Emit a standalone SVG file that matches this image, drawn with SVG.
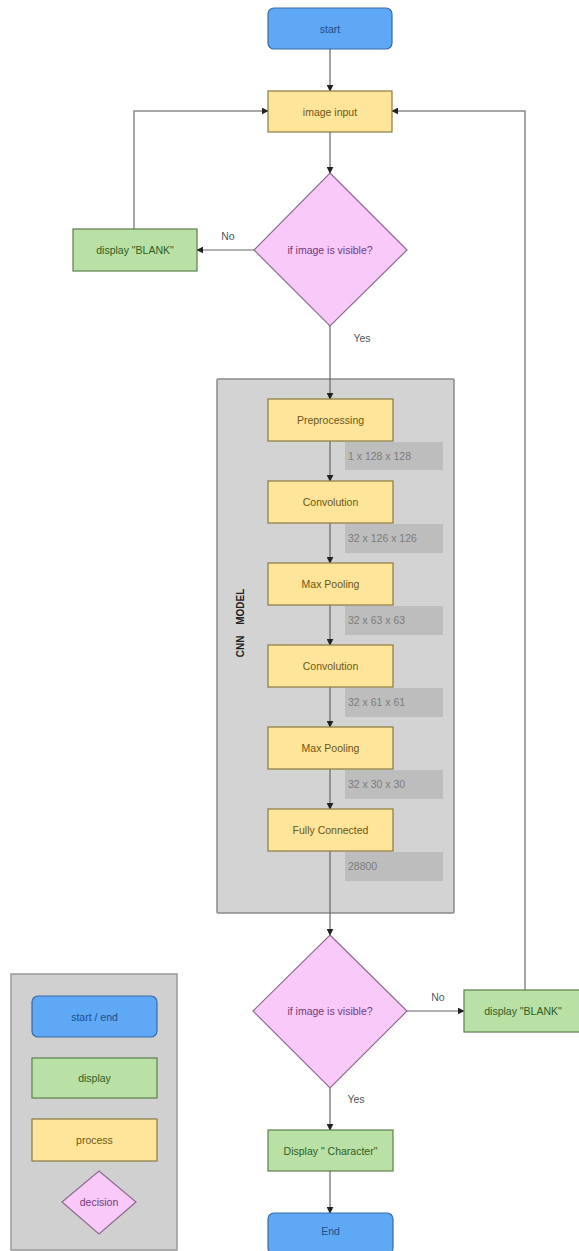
<svg xmlns="http://www.w3.org/2000/svg" width="579" height="1251" viewBox="0 0 579 1251">
<style>
text{font-family:"Liberation Sans",Arial,sans-serif;font-size:10.5px;text-anchor:middle;dominant-baseline:central}
.term{fill:#5ea8f5;stroke:#3a6aa8;stroke-width:1.2}
.term-t{fill:#1f4e8c}
.proc{fill:#ffe599;stroke:#8a7a40;stroke-width:1.2}
.proc-t{fill:#6b5716}
.disp{fill:#b9e0a5;stroke:#5c7f4c;stroke-width:1.2}
.disp-t{fill:#2e5e22}
.dec{fill:#f9c9f9;stroke:#8c6b8e;stroke-width:1.2}
.dec-t{fill:#6e3a7a}
.dim{fill:#bdbdbd}
.dim-t{fill:#7c7c7c;text-anchor:start}
.lbl{fill:#555}
.conn{fill:none;stroke:#666;stroke-width:1.2}
.loop{fill:none;stroke:#8a8a8a;stroke-width:1.5}
</style>
<defs>
<marker id="arr" viewBox="0 0 10 10" refX="9" refY="5" markerWidth="7" markerHeight="7" orient="auto" markerUnits="userSpaceOnUse">
<path d="M0,0 L10,5 L0,10 z" fill="#222"/>
</marker>
</defs>
<rect width="579" height="1251" fill="#ffffff"/>

<g id="cnn-model">
<rect x="217" y="379" width="237" height="534" fill="#d3d3d3" stroke="#8a8a8a" stroke-width="1.5" rx="1"/>
<text x="240" y="623" transform="rotate(-90 240 623)" style="font-weight:bold;font-size:10px;word-spacing:8px" fill="#222">CNN MODEL</text>
</g>

<g id="legend">
<rect x="11" y="974" width="166" height="276" fill="#d0d0d0" stroke="#999" stroke-width="1.5"/>
<rect class="term" x="32" y="996" width="125" height="41" rx="6"/>
<text class="term-t" x="94.5" y="1016.5">start / end</text>
<rect class="disp" x="32" y="1058" width="125" height="40"/>
<text class="disp-t" x="94.5" y="1078">display</text>
<rect class="proc" x="32" y="1119" width="125" height="42"/>
<text class="proc-t" x="94.5" y="1140">process</text>
<polygon class="dec" points="99,1171 136,1202 99,1234 62,1202"/>
<text class="dec-t" x="99" y="1202">decision</text>
</g>

<g id="connectors">
<line class="conn" x1="330" y1="49" x2="330" y2="91" marker-end="url(#arr)"/>
<line class="conn" x1="330" y1="132" x2="330" y2="173" marker-end="url(#arr)"/>
<line class="conn" x1="254" y1="250" x2="197" y2="250" marker-end="url(#arr)"/>
<path class="loop" d="M134,229 V111 H268" marker-end="url(#arr)"/>
<line class="conn" x1="330" y1="326" x2="330" y2="399" marker-end="url(#arr)"/>
<line class="conn" x1="330" y1="441" x2="330" y2="481" marker-end="url(#arr)"/>
<line class="conn" x1="330" y1="523" x2="330" y2="563" marker-end="url(#arr)"/>
<line class="conn" x1="330" y1="605" x2="330" y2="645" marker-end="url(#arr)"/>
<line class="conn" x1="330" y1="687" x2="330" y2="727" marker-end="url(#arr)"/>
<line class="conn" x1="330" y1="769" x2="330" y2="809" marker-end="url(#arr)"/>
<line class="conn" x1="330" y1="851" x2="330" y2="935" marker-end="url(#arr)"/>
<line class="conn" x1="407" y1="1011" x2="464" y2="1011" marker-end="url(#arr)"/>
<path class="loop" d="M525,990 V111 H392" marker-end="url(#arr)"/>
<line class="conn" x1="330" y1="1088" x2="330" y2="1130" marker-end="url(#arr)"/>
<line class="conn" x1="330" y1="1171" x2="330" y2="1213" marker-end="url(#arr)"/>
<text class="lbl" x="228" y="236">No</text>
<text class="lbl" x="362" y="338">Yes</text>
<text class="lbl" x="438" y="997">No</text>
<text class="lbl" x="356" y="1099">Yes</text>
</g>

<g id="start">
<rect class="term" x="268" y="8" width="124" height="41" rx="6"/>
<text class="term-t" x="330" y="28.5">start</text>
</g>
<g id="image-input">
<rect class="proc" x="268" y="91" width="124" height="41"/>
<text class="proc-t" x="330" y="111.5">image input</text>
</g>
<g id="decision-1">
<polygon class="dec" points="330,173 407,250 330,326 254,250"/>
<text class="dec-t" x="330" y="250">if image is visible?</text>
</g>
<g id="display-blank-1">
<rect class="disp" x="73" y="229" width="124" height="42"/>
<text class="disp-t" x="135" y="250">display "BLANK"</text>
</g>

<g id="preprocessing">
<rect class="proc" x="268" y="399" width="125" height="42"/>
<text class="proc-t" x="330.5" y="420">Preprocessing</text>
<rect class="dim" x="345" y="442" width="98" height="28"/>
<text class="dim-t" x="348" y="456">1 x 128 x 128</text>
</g>
<g id="convolution-1">
<rect class="proc" x="268" y="481" width="125" height="42"/>
<text class="proc-t" x="330.5" y="502">Convolution</text>
<rect class="dim" x="345" y="524" width="98" height="29"/>
<text class="dim-t" x="348" y="538">32 x 126 x 126</text>
</g>
<g id="maxpool-1">
<rect class="proc" x="268" y="563" width="125" height="42"/>
<text class="proc-t" x="330.5" y="584">Max Pooling</text>
<rect class="dim" x="345" y="606" width="98" height="29"/>
<text class="dim-t" x="348" y="620">32 x 63 x 63</text>
</g>
<g id="convolution-2">
<rect class="proc" x="268" y="645" width="125" height="42"/>
<text class="proc-t" x="330.5" y="666">Convolution</text>
<rect class="dim" x="345" y="688" width="98" height="29"/>
<text class="dim-t" x="348" y="702">32 x 61 x 61</text>
</g>
<g id="maxpool-2">
<rect class="proc" x="268" y="727" width="125" height="42"/>
<text class="proc-t" x="330.5" y="748">Max Pooling</text>
<rect class="dim" x="345" y="770" width="98" height="29"/>
<text class="dim-t" x="348" y="784">32 x 30 x 30</text>
</g>
<g id="fully-connected">
<rect class="proc" x="268" y="809" width="125" height="42"/>
<text class="proc-t" x="330.5" y="830">Fully Connected</text>
<rect class="dim" x="345" y="852" width="98" height="29"/>
<text class="dim-t" x="348" y="866">28800</text>
</g>

<g id="decision-2">
<polygon class="dec" points="330,935 407,1011 330,1088 253,1011"/>
<text class="dec-t" x="330" y="1011">if image is visible?</text>
</g>
<g id="display-blank-2">
<rect class="disp" x="464" y="990" width="124" height="42"/>
<text class="disp-t" x="523" y="1011">display "BLANK"</text>
</g>
<g id="display-character">
<rect class="disp" x="268" y="1130" width="125" height="41"/>
<text class="disp-t" x="330.5" y="1150.5">Display " Character"</text>
</g>
<g id="end">
<rect class="term" x="268" y="1213" width="125" height="41" rx="6"/>
<text class="term-t" x="330.5" y="1231">End</text>
</g>
</svg>
